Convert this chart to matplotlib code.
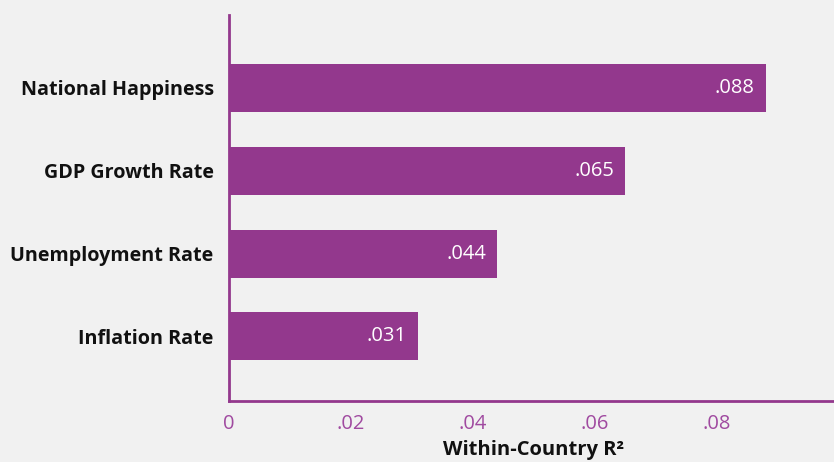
import matplotlib
matplotlib.use("Agg")
import matplotlib.pyplot as plt

categories = ['Inflation Rate', 'Unemployment Rate', 'GDP Growth Rate', 'National Happiness']
values = [0.031, 0.044, 0.065, 0.088]
value_labels = ['.031', '.044', '.065', '.088']
tick_values = [0, 0.02, 0.04, 0.06, 0.08]
tick_labels = ['0', '.02', '.04', '.06', '.08']

purple = '#93388d'
bg = '#f1f1f1'
plt.rcParams['font.family'] = ['Open Sans', 'DejaVu Sans']

fig = plt.figure(figsize=(8.34, 4.62), dpi=100, facecolor=bg)
ax = fig.add_axes([229 / 834, 0.132, 0.7314, 0.8355], facecolor=bg)

pos = list(range(len(categories)))
ax.barh(pos, values, height=0.58, color=purple)
for p, v, lab in zip(pos, values, value_labels):
    ax.text(v - 0.0018, p, lab, color='white', ha='right', va='center', fontsize=14.5)

ax.set_xlim(0, 0.1)
ax.set_ylim(-0.78, 3.88)
ax.set_yticks(pos)
ax.set_yticklabels(categories, fontsize=14.2, fontweight='bold', color='#111111')
ax.set_xticks(tick_values)
ax.set_xticklabels(tick_labels, fontsize=14.5, color='#a04aa0')
ax.tick_params(axis='both', length=0)
ax.tick_params(axis='x', pad=9)
ax.tick_params(axis='y', pad=11)

for s in ['top', 'right']:
    ax.spines[s].set_visible(False)
for s in ['left', 'bottom']:
    ax.spines[s].set_color(purple)
    ax.spines[s].set_linewidth(2)

ax.set_xlabel('Within-Country R²', fontsize=14.5, fontweight='bold', color='#111111', labelpad=5)

fig.savefig('out.png', dpi=100, facecolor=bg)
